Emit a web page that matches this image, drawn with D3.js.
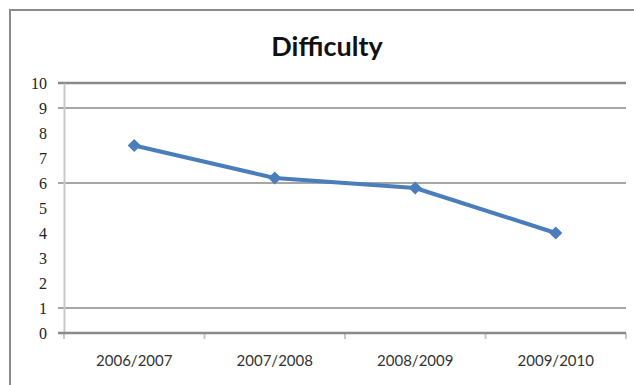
<!DOCTYPE html>
<html>
<head>
<meta charset="utf-8">
<script src="https://cdn.jsdelivr.net/npm/d3@7"></script>
<style>
  html, body { margin: 0; padding: 0; background: #fff; }
  svg { display: block; }
</style>
</head>
<body>
<svg id="chart" width="634" height="385"></svg>
<script>
// Difficulty rating per school year
const categories = ["2006/2007", "2007/2008", "2008/2009", "2009/2010"];
const difficulty = [7.5, 6.2, 5.8, 4.0];
const yTicks = [0, 1, 2, 3, 4, 5, 6, 7, 8, 9, 10];
const gridValues = [1, 6, 9, 10];
const titleText = "Difficulty";

const svg = d3.select("#chart");
const W = 634, H = 385;
const plot = { left: 64, right: 626, top: 83, bottom: 333 };

// outer chart frame
svg.append("rect")
  .attr("x", 10).attr("y", 10)
  .attr("width", W + 20).attr("height", H + 20)
  .attr("fill", "#fff")
  .attr("stroke", "#8c8c8c").attr("stroke-width", 2);

svg.append("text")
  .attr("x", 327).attr("y", 56)
  .attr("text-anchor", "middle")
  .attr("font-family", "Lato, 'Open Sans', sans-serif")
  .attr("font-weight", "bold")
  .attr("font-size", 27)
  .attr("fill", "#111")
  .text(titleText);

const x = d3.scaleBand().domain(categories).range([plot.left, plot.right]);
const y = d3.scaleLinear().domain([0, 10]).range([plot.bottom, plot.top]);

// horizontal gridlines
svg.append("g")
  .selectAll("line")
  .data(gridValues)
  .join("line")
  .attr("x1", plot.left - 6).attr("x2", plot.right)
  .attr("y1", d => y(d)).attr("y2", d => y(d))
  .attr("stroke", d => d === 10 ? "#8a8a8a" : "#a6a6a6")
  .attr("stroke-width", d => d === 10 ? 2.5 : 2);

// value axis
const yAxis = svg.append("g")
  .attr("transform", `translate(${plot.left},0)`)
  .call(d3.axisLeft(y).tickValues(yTicks).tickSize(0).tickPadding(17));
yAxis.select(".domain").attr("stroke", "#c8c8c8").attr("stroke-width", 2);
yAxis.selectAll("text")
  .attr("font-family", "'Liberation Serif', serif")
  .attr("font-size", 16)
  .attr("fill", "#222");

// category axis
const xAxis = svg.append("g")
  .attr("transform", `translate(0,${plot.bottom})`)
  .call(d3.axisBottom(x).tickSize(0).tickPadding(22));
xAxis.select(".domain").remove();
xAxis.selectAll("text")
  .attr("font-family", "Lato, 'Open Sans', sans-serif")
  .attr("font-size", 15)
  .attr("fill", "#333");

// tick marks at band boundaries
const bounds = categories.map(c => x(c)).concat([plot.right]);
svg.append("g")
  .selectAll("line")
  .data(bounds)
  .join("line")
  .attr("x1", d => d).attr("x2", d => d)
  .attr("y1", plot.bottom).attr("y2", plot.bottom + 6)
  .attr("stroke", "#c8c8c8").attr("stroke-width", 2);

// baseline
svg.append("line")
  .attr("x1", plot.left - 6).attr("x2", plot.right)
  .attr("y1", y(0)).attr("y2", y(0))
  .attr("stroke", "#8a8a8a").attr("stroke-width", 2.5);

// data line
const cx = c => x(c) + x.bandwidth() / 2;
svg.append("path")
  .datum(difficulty)
  .attr("fill", "none")
  .attr("stroke", "#4a7ebb")
  .attr("stroke-width", 4)
  .attr("stroke-linejoin", "round")
  .attr("d", d3.line().x((d, i) => cx(categories[i])).y(d => y(d)));

svg.append("g")
  .selectAll("path")
  .data(difficulty)
  .join("path")
  .attr("transform", (d, i) => `translate(${cx(categories[i])},${y(d)})`)
  .attr("d", d3.symbol(d3.symbolDiamond2, 110))
  .attr("fill", "#4a7ebb");
</script>
</body>
</html>
